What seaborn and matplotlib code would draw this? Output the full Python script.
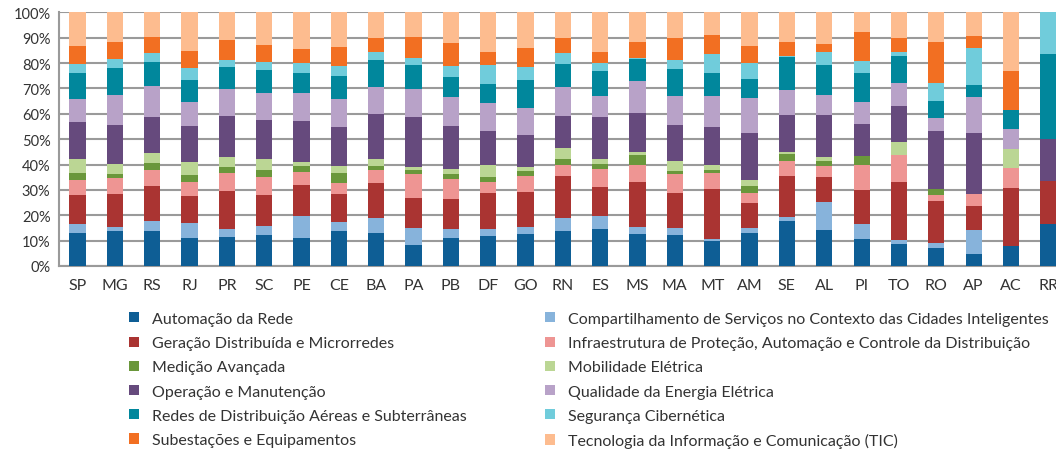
import pandas as pd
import matplotlib
matplotlib.use("Agg")
import matplotlib.pyplot as plt
import seaborn as sns
from matplotlib.patches import Patch
from matplotlib.ticker import FixedLocator

estados = ["SP", "MG", "RS", "RJ", "PR", "SC", "PE", "CE", "BA", "PA", "PB", "DF", "GO", "RN",
           "ES", "MS", "MA", "MT", "AM", "SE", "AL", "PI", "TO", "RO", "AP", "AC", "RR"]

temas = ["Automação da Rede",
         "Compartilhamento de Serviços no Contexto das Cidades Inteligentes",
         "Geração Distribuída e Microrredes",
         "Infraestrutura de Proteção, Automação e Controle da Distribuição",
         "Medição Avançada",
         "Mobilidade Elétrica",
         "Operação e Manutenção",
         "Qualidade da Energia Elétrica",
         "Redes de Distribuição Aéreas e Subterrâneas",
         "Segurança Cibernética",
         "Subestações e Equipamentos",
         "Tecnologia da Informação e Comunicação (TIC)"]

# percentual de cada tema por estado
automacao = [13.2, 13.6, 13.9, 11.2, 11.6, 12.4, 11.2, 13.9, 13.2, 8.3, 11.1, 11.8, 12.6, 13.7,
             14.7, 12.6, 12.2, 9.7, 13.0, 17.8, 14.2, 10.7, 8.7, 7.0, 4.6, 7.7, 16.7]
compartilhamento = [3.5, 1.8, 4.0, 5.8, 3.0, 3.5, 8.4, 3.3, 5.9, 6.7, 3.6, 2.7, 2.7, 5.1,
                    5.0, 2.8, 2.7, 1.1, 1.9, 1.7, 11.1, 6.0, 1.7, 2.1, 9.6, 0, 0]
geracao = [11.2, 12.9, 13.7, 10.6, 14.9, 12.0, 12.4, 11.1, 13.7, 11.8, 11.7, 14.4, 14.0, 16.5,
           11.6, 17.8, 14.0, 19.7, 10.0, 16.0, 9.6, 13.2, 22.9, 16.4, 9.5, 23.1, 16.7]
infraestrutura = [5.9, 6.2, 6.2, 5.4, 7.3, 7.2, 5.0, 4.5, 5.1, 9.6, 7.7, 4.3, 6.0, 4.4,
                  7.0, 6.8, 7.5, 6.3, 4.0, 5.9, 4.6, 10.0, 10.6, 2.4, 4.7, 7.7, 0]
medicao = [2.8, 1.8, 2.9, 2.8, 2.1, 2.7, 2.5, 3.8, 1.7, 1.4, 2.0, 1.9, 2.1, 2.4,
           2.0, 3.6, 1.1, 1.1, 2.5, 2.9, 1.8, 3.4, 0, 2.4, 0, 0, 0]
mobilidade = [5.4, 3.8, 3.8, 5.1, 4.1, 4.3, 1.3, 3.0, 2.5, 1.4, 2.2, 4.9, 1.7, 4.6,
              1.9, 1.3, 3.8, 2.1, 2.4, 0.6, 1.5, 0, 5.0, 0, 0, 7.7, 0]
operacao = [14.8, 15.6, 14.3, 14.4, 16.3, 15.5, 16.3, 15.0, 17.9, 19.4, 16.8, 13.2, 12.6, 12.6,
            16.6, 15.5, 14.2, 14.9, 18.7, 14.7, 16.8, 12.5, 14.3, 23.1, 24.0, 0, 16.7]
qualidade = [9.2, 11.8, 12.0, 9.2, 10.4, 10.6, 11.2, 11.2, 10.4, 11.0, 11.6, 10.9, 10.5, 11.2,
             8.2, 12.5, 11.7, 12.2, 13.6, 9.9, 7.8, 8.8, 8.8, 4.9, 14.3, 7.7, 0]
redes = [10.2, 10.5, 9.6, 8.8, 8.7, 9.0, 7.6, 9.1, 10.8, 9.7, 7.6, 7.7, 11.1, 9.1,
         10.0, 8.5, 10.6, 9.0, 7.7, 12.9, 11.9, 11.6, 10.6, 6.8, 4.7, 7.7, 33.3]
seguranca = [3.4, 3.4, 3.5, 4.6, 2.8, 3.3, 4.0, 3.8, 3.0, 2.7, 4.6, 7.5, 5.1, 4.5,
             3.0, 0.4, 3.5, 7.5, 6.2, 0.5, 4.9, 4.5, 1.7, 7.1, 14.4, 0, 16.6]
subestacoes = [7.2, 6.8, 6.2, 6.8, 7.7, 6.6, 5.6, 7.6, 5.7, 8.1, 8.9, 5.0, 7.7, 5.8,
               4.5, 6.4, 8.6, 7.5, 6.6, 5.5, 3.3, 11.4, 5.4, 16.2, 4.9, 15.4, 0]
tic = [13.2, 11.8, 9.9, 15.3, 11.1, 12.9, 14.5, 13.7, 10.1, 9.9, 12.2, 15.7, 13.9, 10.1,
       15.5, 11.8, 10.1, 8.9, 13.4, 11.6, 12.5, 7.9, 10.3, 11.6, 9.3, 23.0, 0]

cores = ["#0E5E95", "#87B3DB", "#AA3432", "#EE9593", "#6A973B", "#BBD694",
         "#664A7D", "#B8A2C8", "#01879C", "#70CCDB", "#F26F22", "#FDBC8F"]

series = [automacao, compartilhamento, geracao, infraestrutura, medicao, mobilidade,
          operacao, qualidade, redes, seguranca, subestacoes, tic]

linhas = []
for tema, valores in zip(temas, series):
    for est, v in zip(estados, valores):
        linhas.append({"estado": est, "tema": tema, "valor": v})
df = pd.DataFrame(linhas)

sns.set_style("white")
plt.rcParams["font.family"] = ["Lato", "DejaVu Sans"]
texto = "#333333"

fig = plt.figure(figsize=(10.56, 4.52), dpi=100)
ax = fig.add_axes([0.0557, 0.4093, 0.9546, 0.5613])

# seaborn empilha o primeiro nivel de hue no topo, por isso a ordem invertida
sns.histplot(data=df, x="estado", weights="valor", hue="tema",
             hue_order=temas[::-1], palette=dict(zip(temas, cores)),
             multiple="stack", discrete=True, shrink=0.43, alpha=1,
             linewidth=0, legend=False, ax=ax, zorder=3)

ax.set_xlim(-0.5, 26.5)
ax.set_ylim(0, 100)
ax.set_yticks(range(0, 101, 10))
ax.set_yticklabels([f"{v}%" for v in range(0, 101, 10)], fontsize=10.5, color=texto)
ax.set_xticks(range(len(estados)))
ax.set_xticklabels(estados, fontsize=11.5, color=texto)
ax.xaxis.set_minor_locator(FixedLocator([i - 0.5 for i in range(len(estados) + 1)]))
ax.tick_params(axis="x", which="major", length=0, pad=9)
ax.tick_params(axis="x", which="minor", length=5, width=1, color="#999999")
ax.tick_params(axis="y", length=0, pad=6)
ax.set_xlabel("")
ax.set_ylabel("")
ax.grid(axis="y", color="#9a9a9a", linewidth=1.5, zorder=0)
ax.set_axisbelow(True)
for s in ["top", "right"]:
    ax.spines[s].set_visible(False)
for s in ["left", "bottom"]:
    ax.spines[s].set_color("#9a9a9a")
    ax.spines[s].set_linewidth(1.5)

handles = [Patch(facecolor=c, edgecolor="none") for c in cores]
opts = dict(frameon=False, fontsize=11.5, labelcolor=texto, handlelength=0.6,
            handleheight=0.6, handletextpad=0.85, labelspacing=0.64,
            borderpad=0, borderaxespad=0, loc="upper left")
fig.legend(handles[0::2], temas[0::2], bbox_to_anchor=(129 / 1056, 1 - 313 / 452), **opts)
fig.legend(handles[1::2], temas[1::2], bbox_to_anchor=(545 / 1056, 1 - 313 / 452), **opts)

fig.savefig("out.png", dpi=100)
